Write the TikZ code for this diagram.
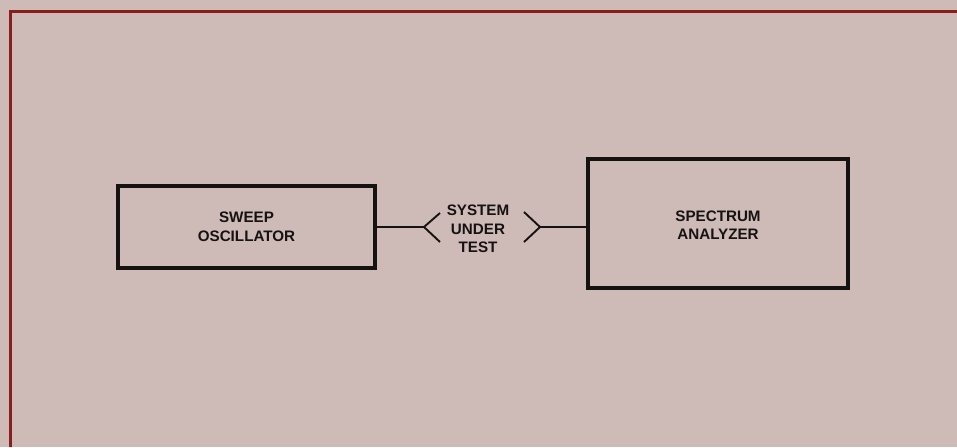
\documentclass[tikz,border=0pt]{standalone}
\usepackage{fontspec}
\setmainfont{Liberation Sans}
\definecolor{paper}{RGB}{206,187,184}
\definecolor{frame}{RGB}{135,30,26}
\definecolor{ink}{RGB}{22,18,18}
\begin{document}
\begin{tikzpicture}[x=1pt,y=-1pt,
  blk/.style={draw=ink,line width=3.8pt,inner sep=0pt},
  lbl/.style={text=ink,font=\bfseries\fontsize{15.2}{18.5}\selectfont,align=center,inner sep=0pt},
  wire/.style={draw=ink,line width=1.6pt},
  chev/.style={draw=ink,line width=1.9pt,line join=miter}]
\fill[paper] (0,0) rectangle (957,447);
\useasboundingbox (0,0) rectangle (957,447);
\draw[frame,line width=3pt] (10.5,447) -- (10.5,11) -- (957,11);
% boxes
\draw[blk] (118,186) rectangle (375,268);
\node[lbl] (osc) at (246.5,227) {SWEEP\\OSCILLATOR};
\coordinate (oscE) at (375,227);
\draw[blk] (588,159) rectangle (848,288);
\node[lbl] (spa) at (718,225) {SPECTRUM\\ANALYZER};
\coordinate (spaW) at (588,227);
% system under test
\node[lbl] (sut) at (478,229) {SYSTEM\\UNDER\\TEST};
\coordinate (lv) at (424,227);
\coordinate (rv) at (540,227);
\draw[wire] (oscE) -- (lv);
\draw[chev] (440,213) -- (lv) -- (440,242);
\draw[chev] (524,212) -- (rv) -- (524,242);
\draw[wire] (rv) -- (spaW);
\end{tikzpicture}
\end{document}
